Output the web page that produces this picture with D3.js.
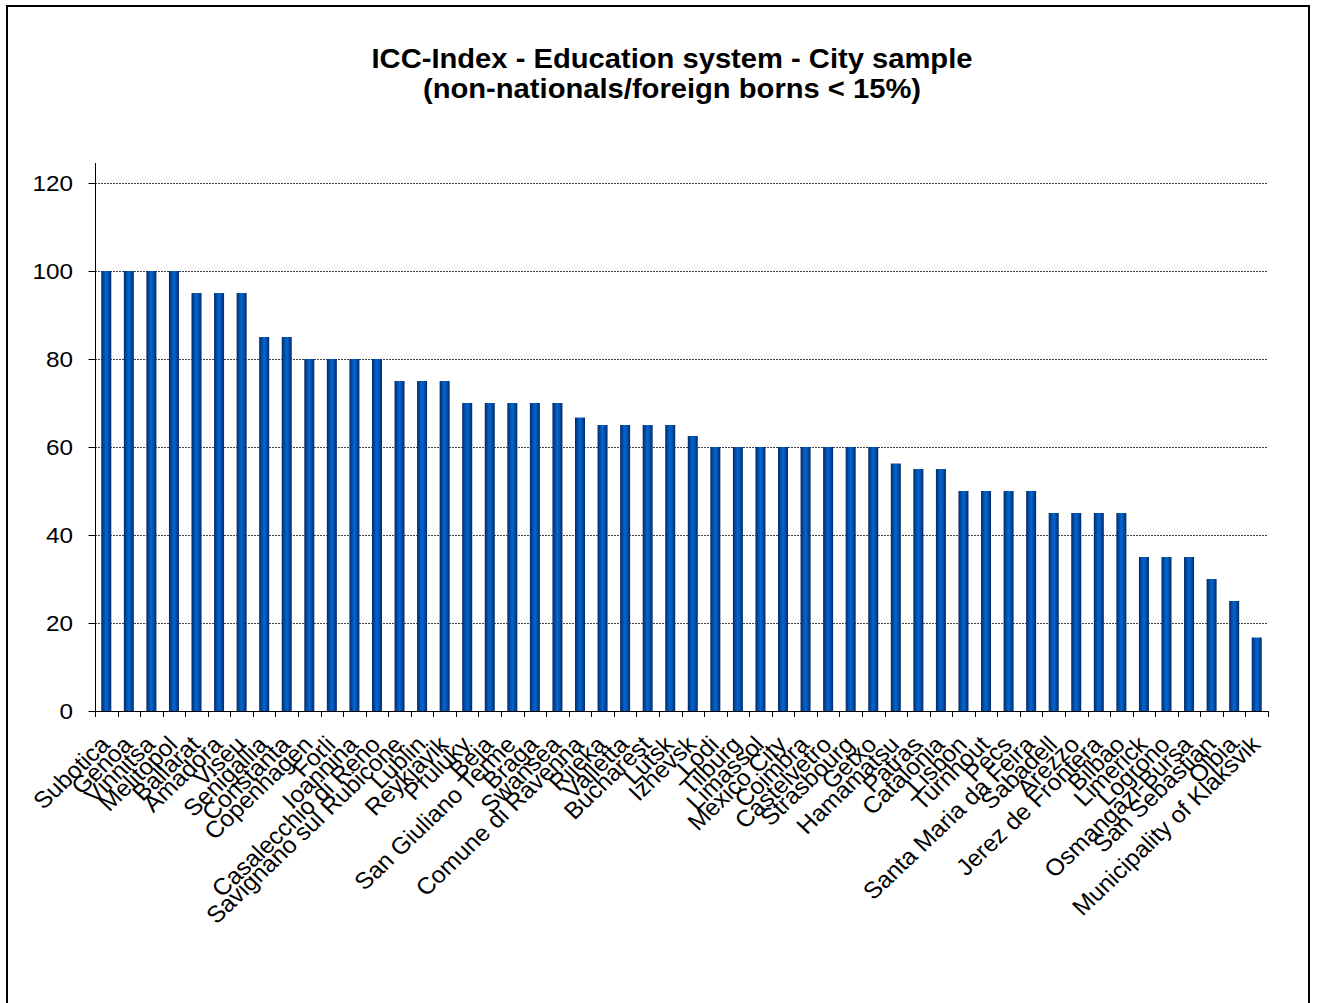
<!DOCTYPE html>
<html><head><meta charset="utf-8">
<script src="https://cdn.jsdelivr.net/npm/d3@7"></script>
<style>body{margin:0;background:#fff}svg{display:block}</style>
</head><body>
<script>
const categories = ["Subotica","Genoa","Vinnitsa","Melitopol","Ballarat","Amadora","Viseu","Senigallia","Constanta","Copenhagen","Forli","Ioannina","Casalecchio di Reno","Savignano sul Rubicone","Lublin","Reykjavik","Pruluky","Beja","San Giuliano Terme","Braga","Swansea","Comune di Ravenna","Rijeka","Valletta","Bucharest","Lutsk","Izhevsk","Lodi","Tilburg","Limassol","Mexico City","Coimbra","Castelvetro","Strasbourg","Getxo","Hamamatsu","Patras","Catalonia","Lisbon","Turnhout","Pecs","Santa Maria da Feira","Sabadell","Arezzo","Jerez de Frontera","Bilbao","Limerick","Logrono","Osmangazi-Bursa","San Sebastian","Olbia","Municipality of Klaksvik"];
const values = [100,100,100,100,95,95,95,85,85,80,80,80,80,75,75,75,70,70,70,70,70,66.7,65,65,65,65,62.5,60,60,60,60,60,60,60,60,56.25,55,55,50,50,50,50,45,45,45,45,35,35,35,30,25,16.7];
const yTicks = [0,20,40,60,80,100,120];
const titleLines = ["ICC-Index - Education system - City sample","(non-nationals/foreign borns < 15%)"];

const W = 1317, H = 1003;
const FONT = "Liberation Sans, Arial, sans-serif";
const SX = 1.08;
const svg = d3.select("body").append("svg").attr("width", W).attr("height", H);
svg.append("rect").attr("x",7).attr("y",6).attr("width",1302).attr("height",1010)
  .attr("fill","none").attr("stroke","#000").attr("stroke-width",2);

const defs = svg.append("defs");
const g = defs.append("linearGradient").attr("id","barg").attr("x1","0").attr("x2","1").attr("y1","0").attr("y2","0");
[[0,"#06285a"],[0.25,"#004ca8"],[0.5,"#0566cf"],[0.75,"#004ca8"],[1,"#06285a"]].forEach(([o,c])=>g.append("stop").attr("offset",o).attr("stop-color",c));

const x0 = 95, x1 = 1268, yTop = 183, yBot = 711;
const x = d3.scaleBand().domain(categories).range([x0, x1]).paddingInner(0).paddingOuter(0);
const y = d3.scaleLinear().domain([0,120]).range([yBot, yTop]);

// gridlines
svg.append("g").selectAll("line").data(yTicks.filter(d=>d>0)).join("line")
  .attr("x1",x0).attr("x2",x1).attr("y1",d=>y(d)+0.5).attr("y2",d=>y(d)+0.5)
  .attr("stroke","#444").attr("stroke-width",1).attr("stroke-dasharray","2,1");

// bars
const bw = 10;
svg.append("g").selectAll("rect").data(values).join("rect")
  .attr("x",(d,i)=>x(categories[i]) + x.bandwidth()/2 - bw/2)
  .attr("y",d=>y(d)).attr("width",bw).attr("height",d=>yBot - y(d))
  .attr("fill","url(#barg)");

// y axis
const ya = d3.axisLeft(y).tickValues(yTicks).tickSize(7).tickFormat("");
const yg = svg.append("g").attr("transform",`translate(${x0+0.5},0)`).call(ya);
yg.selectAll("line,path").attr("stroke","#000");
yg.select(".domain").attr("d",`M0,${yTop-20}V${yBot}`);
svg.append("g").selectAll("text").data(yTicks).join("text")
  .attr("transform",d=>`translate(73,${y(d)}) scale(${SX},1)`)
  .attr("text-anchor","end").attr("dy","0.36em")
  .attr("font-family",FONT).attr("font-size",22.5).attr("fill","#000")
  .text(d=>d);

// x axis line and ticks at boundaries
svg.append("line").attr("x1",x0).attr("x2",x1+1).attr("y1",yBot+0.5).attr("y2",yBot+0.5).attr("stroke","#000");
const bounds = categories.map(c=>x(c)).concat([x1]);
svg.append("g").selectAll("line").data(bounds).join("line")
  .attr("x1",d=>Math.round(d)+0.5).attr("x2",d=>Math.round(d)+0.5).attr("y1",yBot).attr("y2",yBot+6).attr("stroke","#000");

// x labels
svg.append("g").selectAll("text").data(categories).join("text")
  .attr("transform",d=>`translate(${x(d)+x.bandwidth()/2+5},746) scale(1.05,1) rotate(-45)`)
  .attr("text-anchor","end")
  .attr("font-family",FONT).attr("font-size",23.5).attr("fill","#000")
  .text(d=>d);

// title
svg.append("g").selectAll("text").data(titleLines).join("text")
  .attr("transform",(d,i)=>`translate(672,${68+i*30}) scale(${SX},1)`)
  .attr("text-anchor","middle")
  .attr("font-family",FONT).attr("font-weight","bold").attr("font-size",27)
  .text(d=>d);
</script>
</body></html>
